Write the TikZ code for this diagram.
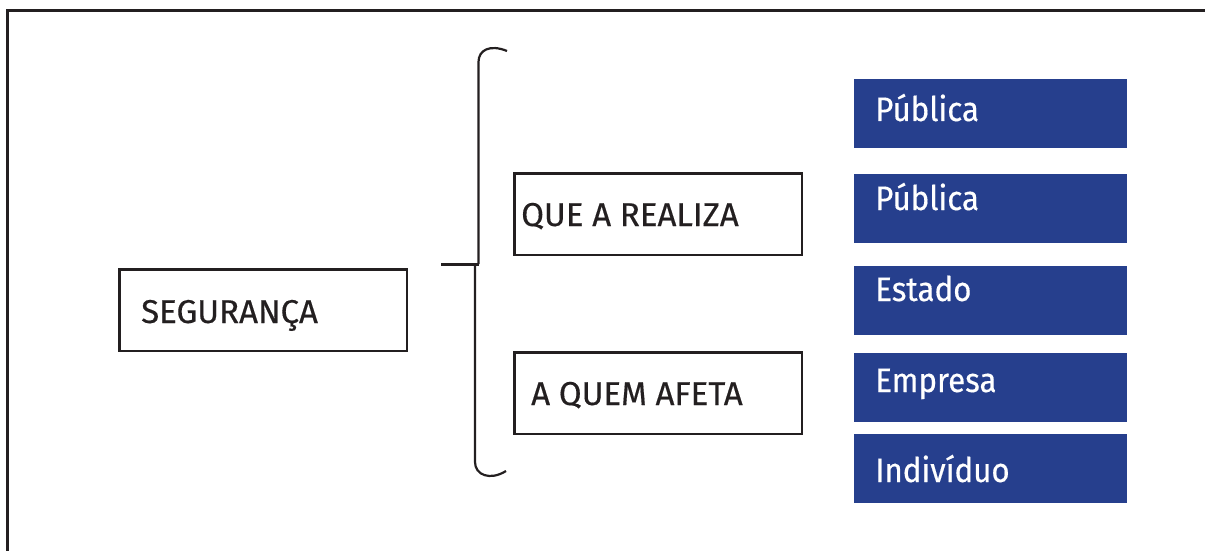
\documentclass[tikz,border=0pt]{standalone}
\usepackage{fontspec}
\setmainfont{Fira Sans}[FakeBold=0.4]
\newfontfamily\estreita{Fira Sans}[FakeStretch=0.92, FakeBold=0.4]
\definecolor{azul}{HTML}{263F8D}
\definecolor{preto}{HTML}{231F20}
\tikzset{
  caixa/.style={draw=preto, line width=2.5pt, inner sep=0pt, anchor=north west,
                minimum width=287.5pt, minimum height=81.5pt},
  bloco/.style={fill=azul, inner sep=0pt, anchor=north west,
                minimum width=273pt, minimum height=69pt},
  rotulo/.style={anchor=base west, inner sep=0pt, text=preto,
                 font=\fontsize{33}{40}\selectfont},
  rotulo branco/.style={rotulo, text=white, font=\estreita\fontsize{34}{40}\selectfont},
}
\begin{document}
\begin{tikzpicture}[x=1pt, y=-1pt]
                \useasboundingbox (0,0) rectangle (1205,551);
                % moldura
                \draw [preto, line width=3pt] (7.5,560) -- (7.5,10.5) -- (1215,10.5);
                % caixas da esquerda
                \node [caixa] (seguranca) at (118.25,268.25) {};
                \node [caixa] (realiza) at (513.25,172.25) {};
                \node [caixa] (afeta) at (513.25,351.25) {};
                \node [rotulo] (seguranca txt) at (141,323) {SEGURANÇA};
                \node [rotulo] (realiza txt) at (521,226) {QUE A REALIZA};
                \node [rotulo] (afeta txt) at (531,405) {A QUEM AFETA};
                % chave
                \coordinate (bico) at (441,264);
                \coordinate (meio) at (478.5,264);
                \draw [preto, line width=3pt] (bico) -- (meio);
                \draw [preto, line width=2.2pt] (meio) -- (478.5,62)
                      .. controls (478.5,50) and (490,44) .. (507,51);
                \draw [preto, line width=2.2pt] (475,264) -- (475,462)
                      .. controls (475,475) and (490,481) .. (506,471);
                % blocos azuis
                \foreach \y/\b/\t/\n in {79/121/Pública/a, 174/210/Pública/b,
                                         266/301/Estado/c, 353/392/Empresa/d,
                                         434/482/Indivíduo/e}{
                    \node [bloco] (bloco \n) at (854,\y) {};
                    \node [rotulo branco] (bloco \n txt) at (875,\b) {\t};
                }
\end{tikzpicture}
\end{document}
